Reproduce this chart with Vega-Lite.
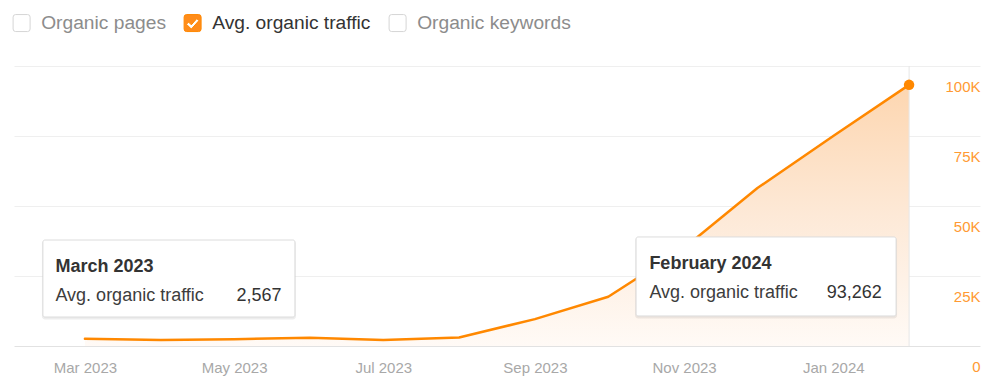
{
  "$schema": "https://vega.github.io/schema/vega-lite/v6.json",
  "width": 966,
  "height": 280,
  "autosize": {"type": "none"},
  "padding": {"left": 14, "top": 66, "right": 20, "bottom": 42},
  "background": "white",
  "config": {"view": {"stroke": null}, "font": "Liberation Sans"},
  "data": {
    "values": [
      {"month": "2023-03-01T00:00:00", "series": "Avg. organic traffic", "traffic": 2567},
      {"month": "2023-04-01T00:00:00", "series": "Avg. organic traffic", "traffic": 2150},
      {"month": "2023-05-01T00:00:00", "series": "Avg. organic traffic", "traffic": 2450},
      {"month": "2023-06-01T00:00:00", "series": "Avg. organic traffic", "traffic": 2950},
      {"month": "2023-07-01T00:00:00", "series": "Avg. organic traffic", "traffic": 2150},
      {"month": "2023-08-01T00:00:00", "series": "Avg. organic traffic", "traffic": 3050},
      {"month": "2023-09-01T00:00:00", "series": "Avg. organic traffic", "traffic": 9600},
      {"month": "2023-10-01T00:00:00", "series": "Avg. organic traffic", "traffic": 17600},
      {"month": "2023-11-01T00:00:00", "series": "Avg. organic traffic", "traffic": 35000},
      {"month": "2023-12-01T00:00:00", "series": "Avg. organic traffic", "traffic": 56400},
      {"month": "2024-01-01T00:00:00", "series": "Avg. organic traffic", "traffic": 75000},
      {"month": "2024-02-01T00:00:00", "series": "Avg. organic traffic", "traffic": 93262}
    ]
  },
  "encoding": {
    "x": {
      "field": "month",
      "type": "temporal",
      "scale": {"domain": [{"year": 2023, "month": 1, "date": 31}, {"year": 2024, "month": 3, "date": 1}]},
      "axis": {
        "orient": "bottom",
        "values": [
          {"year": 2023, "month": 3, "date": 1},
          {"year": 2023, "month": 5, "date": 1},
          {"year": 2023, "month": 7, "date": 1},
          {"year": 2023, "month": 9, "date": 1},
          {"year": 2023, "month": 11, "date": 1},
          {"year": 2024, "month": 1, "date": 1}
        ],
        "format": "%b %Y",
        "labelColor": "#a8a8a8",
        "labelFontSize": 15,
        "labelBaseline": "middle",
        "labelPadding": 21,
        "labelFlush": false,
        "ticks": false,
        "tickSize": 0,
        "domain": false,
        "grid": false,
        "title": null
      }
    },
    "y": {
      "field": "traffic",
      "type": "quantitative",
      "scale": {"domain": [0, 100000], "nice": false},
      "axis": {
        "orient": "right",
        "values": [0, 25000, 50000, 75000, 100000],
        "grid": true,
        "gridColor": {"condition": {"test": "datum.value === 0", "value": "#e2e2e2"}, "value": "#efefef"},
        "gridWidth": 1,
        "domain": false,
        "ticks": false,
        "tickSize": 0,
        "labelPadding": 0,
        "labelAlign": "right",
        "labelBaseline": "middle",
        "labelOffset": 20,
        "labelColor": "#ff9a33",
        "labelFontSize": 15,
        "labelExpr": "datum.value === 0 ? '0' : (datum.value / 1000) + 'K'",
        "title": null
      }
    }
  },
  "layer": [
    {
      "mark": {
        "type": "area",
        "color": {
          "gradient": "linear",
          "x1": 0, "y1": 0, "x2": 0, "y2": 1,
          "stops": [
            {"offset": 0, "color": "#fdd6b0"},
            {"offset": 0.5, "color": "#fde9d7"},
            {"offset": 1, "color": "#fffaf6"}
          ]
        }
      }
    },
    {
      "transform": [{"filter": {"field": "month", "timeUnit": "yearmonth", "equal": {"year": 2024, "month": 2}}}],
      "mark": {"type": "rule", "color": "#e6e6e6", "strokeWidth": 1},
      "encoding": {"y": {"datum": 100000}, "y2": {"datum": 0}}
    },
    {
      "mark": {"type": "line", "strokeWidth": 2.5, "strokeJoin": "round", "strokeCap": "round"},
      "encoding": {
        "color": {
          "field": "series",
          "type": "nominal",
          "scale": {"domain": ["Organic pages", "Avg. organic traffic", "Organic keywords"], "range": ["#d6d6d6", "#ff8800", "#d6d6d6"]},
          "legend": {
            "title": null,
            "orient": "none",
            "legendX": -2,
            "legendY": -53,
            "direction": "horizontal",
            "padding": 0,
            "symbolSize": 289,
            "labelFontSize": 19.2,
            "labelFont": "Liberation Sans",
            "labelOffset": 10,
            "columnPadding": 16,
            "labelLimit": 400,
            "symbolStrokeWidth": 1,
            "encode": {
              "symbols": {
                "update": {
                  "shape": {"signal": "datum.value === 'Avg. organic traffic' ? 'M-0.7,-1L0.7,-1Q1,-1,1,-0.7L1,0.7Q1,1,0.7,1L-0.7,1Q-1,1,-1,0.7L-1,-0.7Q-1,-1,-0.7,-1ZM-0.72,0.14L-0.15,0.71L0.75,-0.29L0.49,-0.52L-0.15,0.21L-0.47,-0.11Z' : 'M-0.7,-1L0.7,-1Q1,-1,1,-0.7L1,0.7Q1,1,0.7,1L-0.7,1Q-1,1,-1,0.7L-1,-0.7Q-1,-1,-0.7,-1Z'"},
                  "fill": {"signal": "datum.value === 'Avg. organic traffic' ? '#ff8c1a' : '#ffffff'"},
                  "opacity": {"value": 1},
                  "fillOpacity": {"value": 1}
                }
              },
              "labels": {
                "update": {
                  "fill": {"signal": "datum.value === 'Avg. organic traffic' ? '#333333' : '#8c8c8c'"}
                }
              }
            }
          }
        }
      }
    },
    {
      "transform": [{"filter": {"field": "month", "timeUnit": "yearmonth", "equal": {"year": 2024, "month": 2}}}],
      "mark": {"type": "circle", "size": 110, "color": "#ff8800", "opacity": 1}
    },
    {
      "transform": [{"filter": {"field": "month", "timeUnit": "yearmonth", "equal": {"year": 2023, "month": 3}}}],
      "layer": [
        {"mark": {"type": "rect", "width": 254, "height": 79, "xOffset": 84, "yOffset": -58.8, "color": "#000000", "opacity": 0.07, "cornerRadius": 3}},
        {"mark": {"type": "rect", "width": 252, "height": 77, "xOffset": 84, "yOffset": -60.3, "fill": "#ffffff", "stroke": "#dcdcdc", "strokeWidth": 1, "cornerRadius": 2, "opacity": 1}},
        {
          "mark": {"type": "text", "align": "left", "baseline": "alphabetic", "dx": -29.5, "dy": -67.3, "fontSize": 18, "fontWeight": "bold", "color": "#333333"},
          "encoding": {"text": {"field": "month", "type": "temporal", "timeUnit": "yearmonth", "format": "%B %Y"}}
        },
        {
          "mark": {"type": "text", "align": "left", "baseline": "alphabetic", "dx": -29.5, "dy": -37.8, "fontSize": 18, "color": "#3d3d3d"},
          "encoding": {"text": {"field": "series", "type": "nominal"}}
        },
        {
          "mark": {"type": "text", "align": "right", "baseline": "alphabetic", "dx": 196.7, "dy": -37.8, "fontSize": 18, "color": "#333333"},
          "encoding": {"text": {"field": "traffic", "type": "quantitative", "format": ","}}
        }
      ]
    },
    {
      "transform": [{"filter": {"field": "month", "timeUnit": "yearmonth", "equal": {"year": 2024, "month": 2}}}],
      "layer": [
        {"mark": {"type": "rect", "width": 262, "height": 81, "xOffset": -143, "yOffset": 193.1, "color": "#000000", "opacity": 0.07, "cornerRadius": 3}},
        {"mark": {"type": "rect", "width": 260, "height": 79, "xOffset": -143, "yOffset": 191.6, "fill": "#ffffff", "stroke": "#dcdcdc", "strokeWidth": 1, "cornerRadius": 2, "opacity": 1}},
        {
          "mark": {"type": "text", "align": "left", "baseline": "alphabetic", "dx": -259.7, "dy": 184.1, "fontSize": 18, "fontWeight": "bold", "color": "#333333"},
          "encoding": {"text": {"field": "month", "type": "temporal", "timeUnit": "yearmonth", "format": "%B %Y"}}
        },
        {
          "mark": {"type": "text", "align": "left", "baseline": "alphabetic", "dx": -259.7, "dy": 212.8, "fontSize": 18, "color": "#3d3d3d"},
          "encoding": {"text": {"field": "series", "type": "nominal"}}
        },
        {
          "mark": {"type": "text", "align": "right", "baseline": "alphabetic", "dx": -27.3, "dy": 212.8, "fontSize": 18, "color": "#333333"},
          "encoding": {"text": {"field": "traffic", "type": "quantitative", "format": ","}}
        }
      ]
    }
  ]
}
